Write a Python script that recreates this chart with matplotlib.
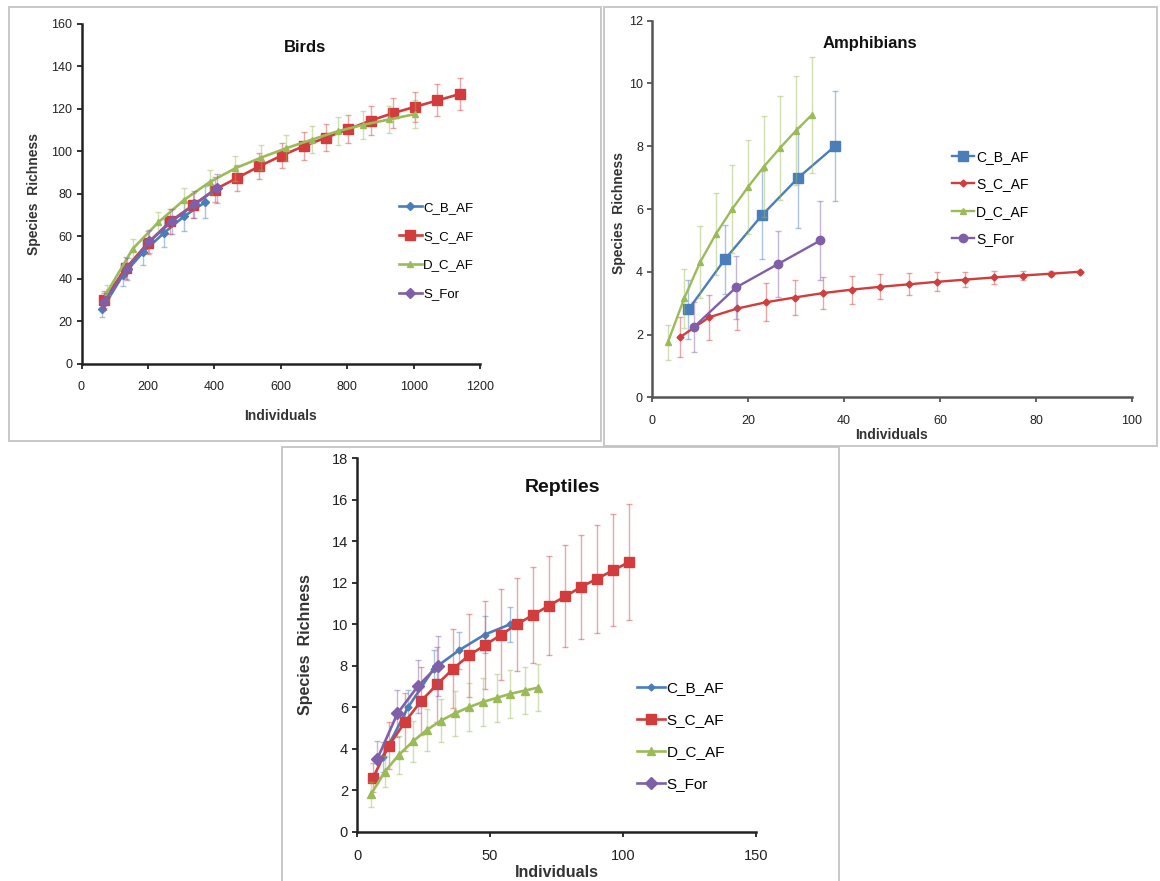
import matplotlib
matplotlib.use("Agg")
import matplotlib.pyplot as plt
from matplotlib.patches import Rectangle

plt.rcParams['font.family'] = ['Liberation Sans', 'DejaVu Sans']

W, H = 1160, 881

# ---- Birds ----
birds_cb_x = [62, 124, 186, 248, 310, 372]
birds_cb_y = [25.5, 41.5, 52.5, 61.5, 69.5, 76]
birds_cb_e = [3.5, 5, 6, 6.5, 7, 7.5]
birds_sc_x = [67, 134, 201, 268, 335, 402, 469, 536, 603, 670, 737, 804, 871, 938, 1005, 1072, 1139]
birds_sc_y = [30, 45, 57, 67, 74.5, 82, 87.5, 93, 98, 102.5, 106.5, 110.5, 114.5, 118, 121, 124, 127]
birds_sc_e = [4, 5, 5.5, 6, 6, 6, 6, 6, 6, 6.5, 6.5, 6.5, 7, 7, 7, 7.5, 7.5]
birds_dc_x = [77, 154, 231, 308, 386, 463, 540, 617, 694, 772, 849, 926, 1003]
birds_dc_y = [33.5, 54, 66.5, 77, 85.5, 92, 97, 101.5, 105.5, 109.5, 112.5, 115, 117.5]
birds_dc_e = [3.5, 4.5, 5, 5.5, 5.5, 6, 6, 6, 6.5, 6.5, 6.5, 6.5, 6.5]
birds_sf_x = [68, 136, 204, 272, 340, 408]
birds_sf_y = [29, 44.5, 57.5, 67, 75, 82.5]
birds_sf_e = [4, 5, 5.5, 6, 6.5, 7]

# ---- Amphibians ----
amph_cb_x = [7.6, 15.2, 22.9, 30.5, 38.1]
amph_cb_y = [2.8, 4.4, 5.8, 7.0, 8.0]
amph_cb_e = [0.95, 1.1, 1.4, 1.6, 1.75]
amph_sc_x = [5.9, 11.9, 17.8, 23.8, 29.7, 35.6, 41.6, 47.5, 53.5, 59.4, 65.3, 71.3, 77.2, 83.2, 89.1]
amph_sc_y = [1.92, 2.55, 2.83, 3.03, 3.18, 3.32, 3.43, 3.52, 3.6, 3.68, 3.75, 3.82, 3.88, 3.94, 4.0]
amph_sc_e = [0.65, 0.72, 0.67, 0.6, 0.57, 0.5, 0.45, 0.4, 0.35, 0.3, 0.25, 0.2, 0.14, 0.08, 0.0]
amph_dc_x = [3.3, 6.7, 10, 13.3, 16.7, 20, 23.3, 26.7, 30, 33.3]
amph_dc_y = [1.75, 3.15, 4.3, 5.2, 6.0, 6.7, 7.35, 7.95, 8.5, 9.0]
amph_dc_e = [0.55, 0.95, 1.15, 1.3, 1.4, 1.5, 1.6, 1.65, 1.75, 1.85]
amph_sf_x = [8.8, 17.5, 26.3, 35.1]
amph_sf_y = [2.25, 3.5, 4.25, 5.0]
amph_sf_e = [0.8, 1.0, 1.05, 1.25]

# ---- Reptiles ----
rept_cb_x = [9.6, 19.2, 28.8, 38.4, 48.0, 57.6]
rept_cb_y = [3.6, 6.0, 7.85, 8.75, 9.5, 10.0]
rept_cb_e = [0.7, 0.85, 0.9, 0.9, 0.9, 0.85]
rept_sc_x = [6.0, 12.0, 18.1, 24.1, 30.1, 36.1, 42.1, 48.2, 54.2, 60.2, 66.2, 72.2, 78.3, 84.3, 90.3, 96.3, 102.3]
rept_sc_y = [2.6, 4.15, 5.3, 6.3, 7.1, 7.85, 8.5, 9.0, 9.5, 10.0, 10.45, 10.9, 11.35, 11.8, 12.2, 12.6, 13.0]
rept_sc_e = [0.7, 1.15, 1.4, 1.65, 1.8, 1.9, 2.0, 2.1, 2.2, 2.25, 2.3, 2.4, 2.45, 2.5, 2.6, 2.7, 2.8]
rept_dc_x = [5.25, 10.5, 15.7, 21.0, 26.2, 31.5, 36.7, 42.0, 47.2, 52.5, 57.7, 63.0, 68.2]
rept_dc_y = [1.8, 2.9, 3.7, 4.35, 4.9, 5.35, 5.7, 6.0, 6.25, 6.45, 6.65, 6.8, 6.95]
rept_dc_e = [0.6, 0.75, 0.9, 1.0, 1.0, 1.05, 1.1, 1.15, 1.15, 1.15, 1.15, 1.15, 1.15]
rept_sf_x = [7.6, 15.2, 22.8, 30.4]
rept_sf_y = [3.5, 5.7, 7.0, 8.0]
rept_sf_e = [0.85, 1.15, 1.3, 1.45]

labels = ["C_B_AF", "S_C_AF", "D_C_AF", "S_For"]
colors = ["#4a7ebb", "#d23c3c", "#9bbb59", "#7f5fa8"]


def px_rect(l, r, t, b):
    return [l / W, 1 - b / H, (r - l) / W, (b - t) / H]


fig = plt.figure(figsize=(W / 100, H / 100), dpi=100)

# panel frames
for l, r, t, b in [(9, 601, 7, 441), (604, 1157, 7, 446), (282, 839, 447, 890)]:
    fig.add_artist(Rectangle((l / W, 1 - b / H), (r - l) / W, (b - t) / H,
                             transform=fig.transFigure, fill=False,
                             edgecolor="#c4c4c4", lw=1.3))


def panel(rect, series, markers, sizes, lw, xlim, xticks, ylim, yticks,
          title, tpos, tsize, fs_tick, fs_lab, ylab_x, ylab_y, xlab_y,
          leg_anchor, leg_fs, leg_space, leg_hl, spine_col):
    ax = fig.add_axes(rect)
    for (x, y, e), c, m, s, lab in zip(series, colors, markers, sizes, labels):
        ax.errorbar(x, y, yerr=e, fmt="none", ecolor=c, alpha=0.45,
                    elinewidth=1.0, capsize=2.5, capthick=1.0)
        ax.plot(x, y, "-", marker=m, color=c, lw=lw, ms=s, mec=c, label=lab)
    ax.set_xlim(*xlim)
    ax.set_ylim(*ylim)
    ax.set_xticks(xticks)
    ax.set_yticks(yticks)
    for side in ("top", "right"):
        ax.spines[side].set_visible(False)
    for side in ("left", "bottom"):
        ax.spines[side].set_color(spine_col)
        ax.spines[side].set_linewidth(1.8)
    ax.tick_params(direction="out", length=3.5, width=1.3, color=spine_col,
                   labelsize=fs_tick, labelcolor="#222222", pad=3)
    ax.tick_params(axis="x", pad=9)
    ax.set_xlabel("Individuals", fontsize=fs_lab, fontweight="bold", color="#333333",
                  va="center")
    ax.set_ylabel("Species  Richness", fontsize=fs_lab, fontweight="bold", color="#333333",
                  va="center")
    ax.yaxis.set_label_coords(ylab_x, ylab_y)
    ax.xaxis.set_label_coords(0.5, xlab_y)
    ax.text(tpos[0], tpos[1], title, transform=ax.transAxes, ha="center", va="center",
            fontsize=tsize, fontweight="bold", color="#111111")
    ax.legend(loc="upper left", bbox_to_anchor=leg_anchor, frameon=False,
              fontsize=leg_fs, handlelength=leg_hl, handletextpad=0.1,
              labelspacing=leg_space, borderaxespad=0)
    ax.patch.set_alpha(0)
    return ax


# Birds: axes span 81.5-480 px wide, 24-363.5 px tall
panel(px_rect(81.5, 480, 24, 363.5),
      [(birds_cb_x, birds_cb_y, birds_cb_e), (birds_sc_x, birds_sc_y, birds_sc_e),
       (birds_dc_x, birds_dc_y, birds_dc_e), (birds_sf_x, birds_sf_y, birds_sf_e)],
      ["D", "s", "^", "D"], [4, 6.5, 5, 5.5], 1.9,
      (0, 1200), range(0, 1201, 200), (0, 160), range(0, 161, 20),
      "Birds", (0.561, 0.932), 12, 9, 10, -0.12, 0.5, -0.156,
      (0.784, 0.492), 9.5, 1.25, 1.7, "#222222")

panel(px_rect(652, 1132, 20.7, 397.3),
      [(amph_cb_x, amph_cb_y, amph_cb_e), (amph_sc_x, amph_sc_y, amph_sc_e),
       (amph_dc_x, amph_dc_y, amph_dc_e), (amph_sf_x, amph_sf_y, amph_sf_e)],
      ["s", "D", "^", "o"], [6.5, 3.5, 5, 6], 1.7,
      (0, 100), range(0, 101, 20), (0, 12), range(0, 13, 2),
      "Amphibians", (0.453, 0.94), 12, 9, 10, -0.068, 0.489, -0.1,
      (0.614, 0.671), 10, 0.95, 1.6, "#555555")

panel(px_rect(357, 756, 458.3, 831.7),
      [(rept_cb_x, rept_cb_y, rept_cb_e), (rept_sc_x, rept_sc_y, rept_sc_e),
       (rept_dc_x, rept_dc_y, rept_dc_e), (rept_sf_x, rept_sf_y, rept_sf_e)],
      ["D", "s", "^", "D"], [3.5, 7.5, 5.5, 6], 1.9,
      (0, 150), range(0, 151, 50), (0, 18), range(0, 19, 2),
      "Reptiles", (0.514, 0.921), 14, 10.5, 11.5, -0.13, 0.5, -0.108,
      (0.687, 0.42), 11, 1.18, 1.8, "#222222")

fig.savefig("out.png", dpi=100, facecolor="white")
